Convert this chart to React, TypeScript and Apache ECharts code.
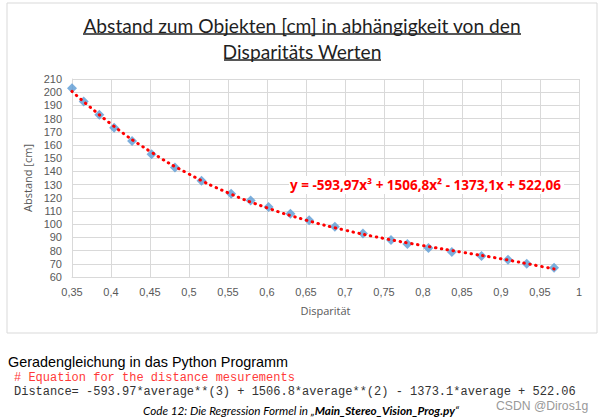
import React, { useEffect, useRef } from "react";
import * as echarts from "echarts";

const titleLines = ["Abstand zum Objekten [cm] in abhängigkeit von den", "Disparitäts Werten"];
const xAxisName = "Disparität";
const yAxisName = "Abstand [cm]";
const equationText = "y = -593,97x³ + 1506,8x² - 1373,1x + 522,06";

// measured points: disparity (x) and distance in cm (y)
const disparity = [0.35, 0.365, 0.385, 0.404, 0.427, 0.452, 0.482, 0.516, 0.554, 0.579, 0.602, 0.63,
  0.654, 0.687, 0.723, 0.759, 0.78, 0.807, 0.837, 0.875, 0.909, 0.933, 0.968];
const distance = [203, 193, 183, 173, 163, 153, 143, 133, 123, 118, 113, 108,
  103, 98, 93, 88, 85, 82, 79, 76, 73, 70, 67];

// trend line
const trendX = [0.35, 0.4, 0.45, 0.5, 0.55, 0.6, 0.65, 0.7, 0.75, 0.8, 0.85, 0.9, 0.95, 0.968];
const trendY = [200.6, 175.9, 155.2, 138.0, 123.8, 112.4, 103.1, 95.5, 89.2, 83.8, 78.8, 73.8, 68.2, 66.1];

const codeHeading = "Geradengleichung in das Python Programm";
const codeComment = "# Equation for the distance mesurements";
const codeLine = "Distance= -593.97*average**(3) + 1506.8*average**(2) - 1373.1*average + 522.06";
const captionPrefix = "Code 12: Die Regression Formel in „";
const captionFile = "Main_Stereo_Vision_Prog.py";
const captionSuffix = "“";
const watermark = "CSDN @Diros1g";

export default function App() {
  const ref = useRef<HTMLDivElement>(null);
  useEffect(() => {
    const chart = echarts.init(ref.current!, null, { renderer: "svg" });
    const fmt = (v: number) => String(Number(v.toFixed(2))).replace(".", ",");
    const labelColor = "#595959";
    const font = "'Open Sans', sans-serif";
    const tickFont = "'Liberation Sans', Arial, sans-serif";
    const titleFont = "Lato, 'Open Sans', sans-serif";
    chart.setOption({
      animation: false,
      backgroundColor: "#ffffff",
      grid: { left: 72, right: 25, top: 79, bottom: 142 },
      xAxis: {
        type: "value",
        min: 0.35,
        max: 1,
        interval: 0.05,
        name: xAxisName,
        nameLocation: "middle",
        nameGap: 28,
        nameTextStyle: { color: labelColor, fontSize: 11, fontFamily: font },
        axisLine: { show: true, lineStyle: { color: "#d9d9d9" } },
        axisTick: { show: false },
        axisLabel: { color: labelColor, fontSize: 11, fontFamily: tickFont, formatter: fmt, margin: 9 },
        splitLine: { show: true, lineStyle: { color: "#d9d9d9", width: 1 } },
      },
      yAxis: {
        type: "value",
        min: 60,
        max: 210,
        interval: 10,
        name: yAxisName,
        nameLocation: "middle",
        nameGap: 34,
        nameTextStyle: { color: labelColor, fontSize: 11, fontFamily: font },
        axisLine: { show: true, lineStyle: { color: "#d9d9d9" } },
        axisTick: { show: false },
        axisLabel: { color: labelColor, fontSize: 11, lineHeight: 12, fontFamily: tickFont, margin: 10 },
        splitLine: { show: true, lineStyle: { color: "#d9d9d9", width: 1 } },
      },
      series: [
        {
          type: "scatter",
          data: disparity.map((x, i) => [x, distance[i]]),
          symbol: "diamond",
          symbolSize: 10,
          itemStyle: { color: "#5b9bd5" },
          z: 2,
        },
        {
          type: "line",
          data: trendX.map((x, i) => [x, trendY[i]]),
          smooth: true,
          showSymbol: false,
          symbol: "none",
          lineStyle: { color: "#ff0000", width: 3, type: [0.5, 5.5], cap: "round" },
          z: 3,
        },
      ],
      graphic: [
        {
          type: "rect",
          shape: { x: 7, y: 3, width: 590, height: 330 },
          style: { fill: "none", stroke: "#d9d9d9", lineWidth: 1 },
          z: -1,
        },
        {
          type: "text",
          x: 302,
          y: 25,
          style: { text: titleLines[0], fontSize: 19.2, fontFamily: titleFont, fill: "#1f1f1f", align: "center", verticalAlign: "middle" },
        },
        {
          type: "line",
          shape: { x1: 83, y1: 34, x2: 521, y2: 34 },
          style: { stroke: "#1f1f1f", lineWidth: 1.3 },
        },
        {
          type: "text",
          x: 302,
          y: 51,
          style: { text: titleLines[1], fontSize: 19.2, fontFamily: titleFont, fill: "#1f1f1f", align: "center", verticalAlign: "middle" },
        },
        {
          type: "line",
          shape: { x1: 224, y1: 60, x2: 381, y2: 60 },
          style: { stroke: "#1f1f1f", lineWidth: 1.3 },
        },
        {
          type: "text",
          x: 289,
          y: 185,
          z: 10,
          style: {
            text: equationText, fontSize: 13.5, fontWeight: "bold", fontFamily: font, fill: "#ff0000",
            verticalAlign: "middle", backgroundColor: "#ffffff", padding: [2, 3, 2, 1],
          },
        },
        {
          type: "text",
          x: 8,
          y: 362,
          style: { text: codeHeading, fontSize: 14.4, lineHeight: 15, fontFamily: "'Liberation Sans', Arial, sans-serif", fill: "#000000", verticalAlign: "middle" },
        },
        {
          type: "text",
          x: 14,
          y: 378,
          style: { text: codeComment, fontSize: 12, lineHeight: 13, fontFamily: "'Liberation Mono', monospace", fill: "#ff3a3a", verticalAlign: "middle" },
        },
        {
          type: "text",
          x: 14,
          y: 392,
          style: { text: codeLine, fontSize: 12, lineHeight: 12, fontFamily: "'Liberation Mono', monospace", fill: "#333333", verticalAlign: "middle" },
        },
        {
          type: "text",
          x: 301,
          y: 410,
          style: {
            text: "{a|" + captionPrefix + "}{b|" + captionFile + "}{a|" + captionSuffix + "}",
            align: "center",
            verticalAlign: "middle",
            rich: {
              a: { fontSize: 11.7, fontStyle: "italic", fontFamily: titleFont, color: "#44546a" },
              b: { fontSize: 11.7, fontStyle: "italic", fontWeight: "bold", fontFamily: titleFont, color: "#44546a" },
            },
          },
        },
        {
          type: "text",
          x: 496,
          y: 406,
          style: { text: watermark, fontSize: 12.2, lineHeight: 12, fontFamily: "'Liberation Sans', Arial, sans-serif", fill: "#999999", verticalAlign: "middle" },
        },
      ],
    });
    return () => chart.dispose();
  }, []);
  return <div ref={ref} style={{ position: "absolute", left: 0, top: 0, width: 604, height: 419 }} />;
}
